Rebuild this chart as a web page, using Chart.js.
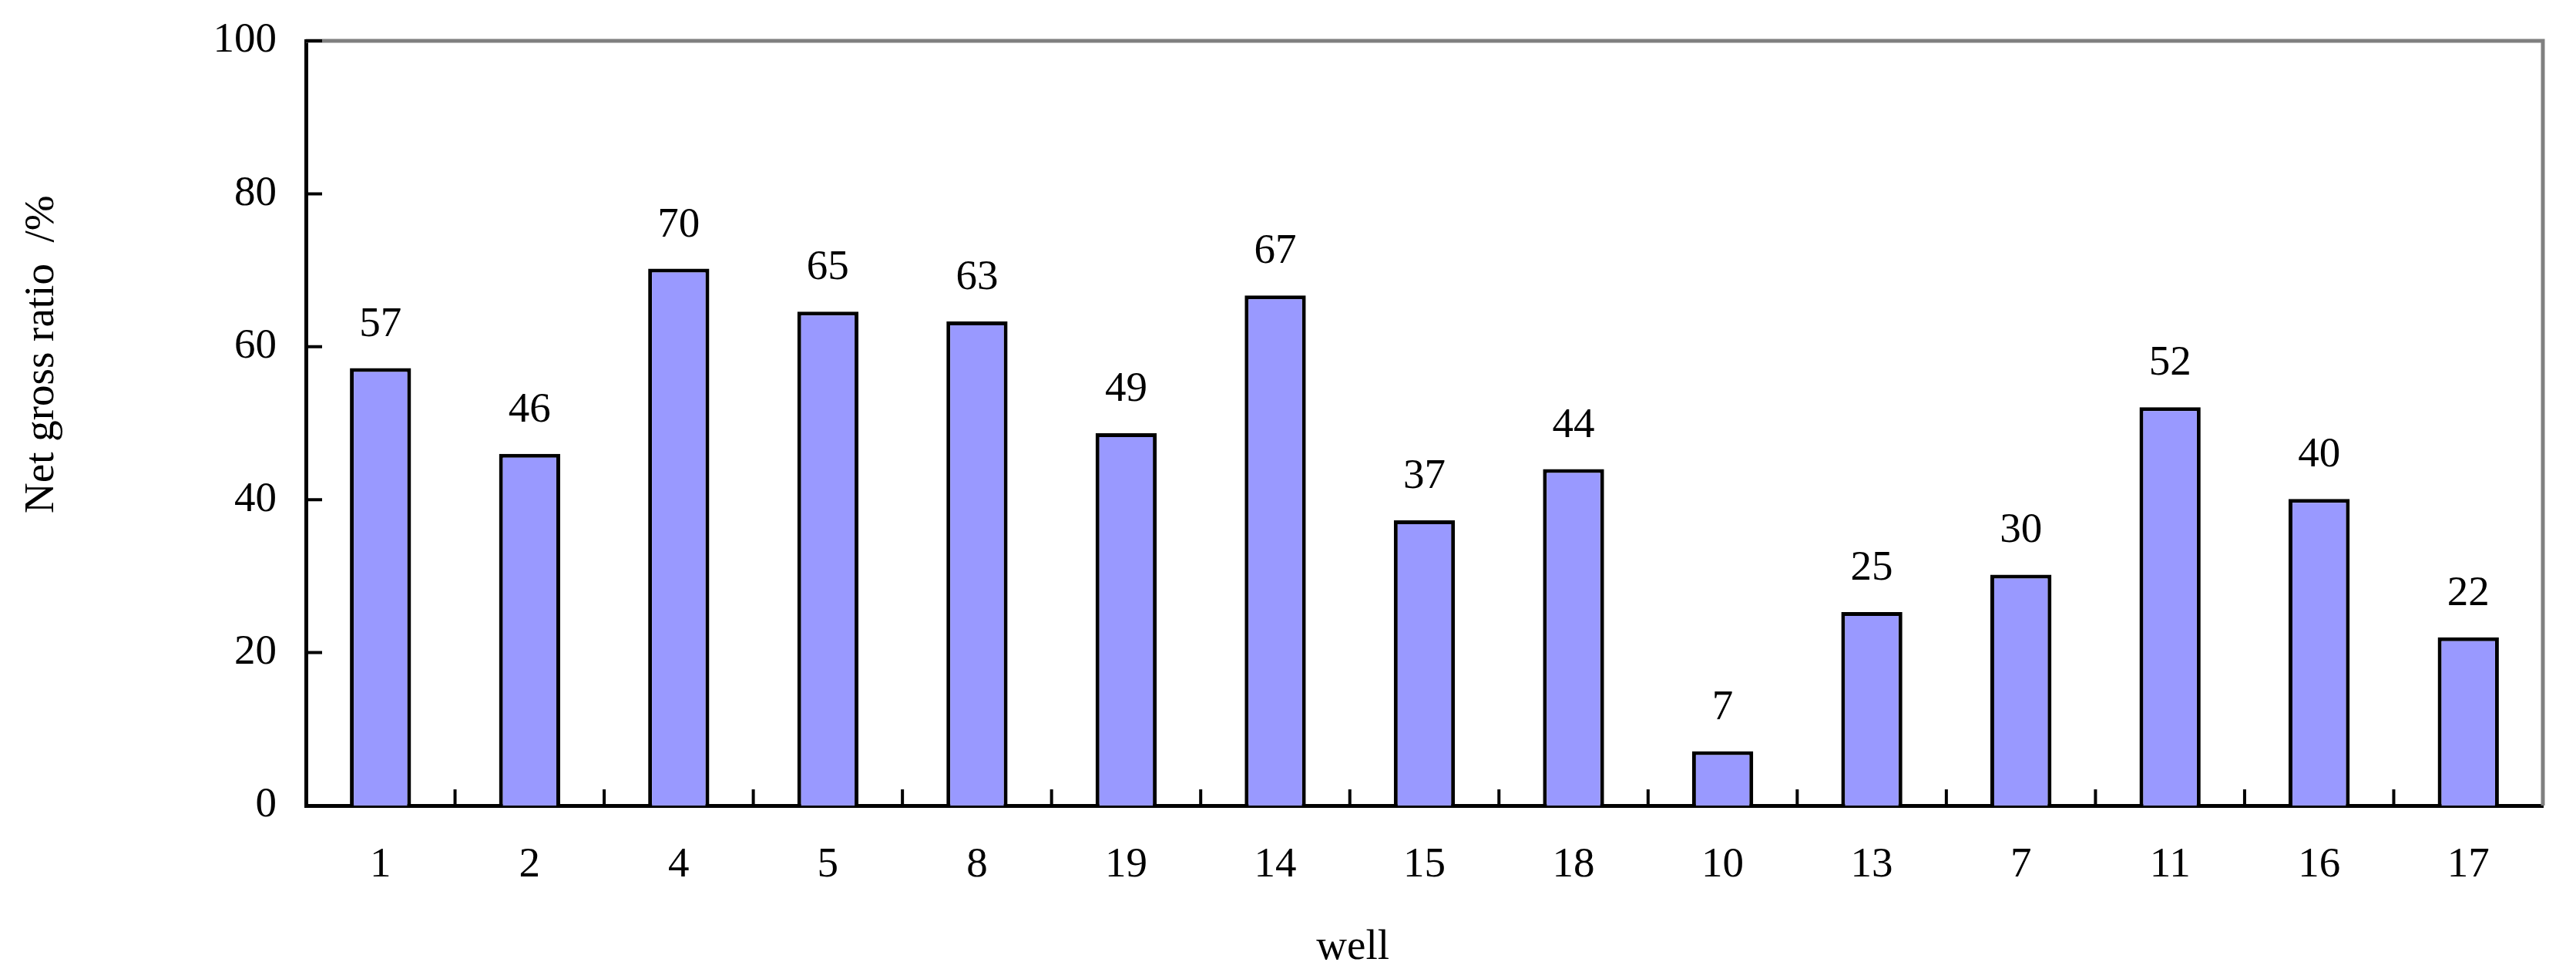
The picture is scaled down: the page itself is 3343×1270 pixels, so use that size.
<!DOCTYPE html>
<html>
<head>
<meta charset="utf-8">
<title>Net gross ratio by well</title>
<script src="https://cdn.jsdelivr.net/npm/chart.js@4/dist/chart.umd.min.js"></script>
<style>
  html, body { margin: 0; padding: 0; background: #fff; }
  #chart { display: block; }
</style>
</head>
<body>
<canvas id="chart" width="3343" height="1270"></canvas>
<script>
// ── Data ──────────────────────────────────────────────────
const wells   = ['1','2','4','5','8','19','14','15','18','10','13','7','11','16','17'];
const ratios  = [57.2, 46.0, 70.2, 64.6, 63.3, 48.7, 66.7, 37.3, 44.0, 7.1, 25.3, 30.2, 52.1, 40.1, 22.0];
const yTicks  = [0, 20, 40, 60, 80, 100];
const xTitle  = 'well';
const yTitle  = 'Net gross ratio  /%';

const FONT = '"Liberation Serif", "Times New Roman", serif';
const FONT_SIZE = 55;

// ── Frame, inward ticks, value labels, axis titles ────────
const framePlugin = {
  id: 'frame',
  afterDatasetsDraw(chart) {
    const { ctx, chartArea: a, scales: { x, y } } = chart;
    ctx.save();

    // gray top / right border
    ctx.strokeStyle = '#808080';
    ctx.lineWidth = 5;
    ctx.beginPath();
    ctx.moveTo(a.left, a.top);
    ctx.lineTo(a.right, a.top);
    ctx.lineTo(a.right, a.bottom);
    ctx.stroke();

    // inward ticks
    ctx.strokeStyle = '#000';
    ctx.lineWidth = 4;
    ctx.beginPath();
    yTicks.forEach(v => {
      const py = y.getPixelForValue(v);
      ctx.moveTo(a.left, py);
      ctx.lineTo(a.left + 21, py);
    });
    for (let i = 1; i < wells.length; i++) {
      const px = (x.getPixelForValue(i - 1) + x.getPixelForValue(i)) / 2;
      ctx.moveTo(px, a.bottom);
      ctx.lineTo(px, a.bottom - 21);
    }
    ctx.stroke();

    // value labels
    ctx.fillStyle = '#000';
    ctx.font = FONT_SIZE + 'px ' + FONT;
    ctx.textAlign = 'center';
    ctx.textBaseline = 'alphabetic';
    const meta = chart.getDatasetMeta(0);
    meta.data.forEach((bar, i) => {
      ctx.fillText(String(Math.round(ratios[i])), bar.x, bar.y - 42);
    });

    // axis titles
    ctx.textBaseline = 'middle';
    ctx.fillText(xTitle, a.left + (a.right - a.left) * 0.468, a.bottom + 185);
    ctx.translate(55, a.top + (a.bottom - a.top) * 0.41);
    ctx.rotate(-Math.PI / 2);
    ctx.fillText(yTitle, 0, 0);
    ctx.restore();
  }
};

new Chart(document.getElementById('chart').getContext('2d'), {
  type: 'bar',
  data: {
    labels: wells,
    datasets: [{
      label: 'Net gross ratio',
      data: ratios,
      backgroundColor: '#9999FF',
      borderColor: '#000',
      borderWidth: 5,
      borderSkipped: 'bottom',
      barPercentage: 0.41,
      categoryPercentage: 1
    }]
  },
  options: {
    responsive: false, animation: false,
    devicePixelRatio: 1,
    layout: { padding: { top: 53, right: 43, bottom: 0, left: 0 } },
    plugins: { legend: { display: false }, tooltip: { enabled: false } },
    scales: {
      x: {
        grid: { display: false, drawTicks: false },
        border: { display: true, color: '#000', width: 5 },
        ticks: { color: '#000', font: { family: FONT, size: FONT_SIZE }, padding: 45, maxRotation: 0 },
        afterFit: s => { s.height = 225; s.paddingLeft = 0; s.paddingRight = 0; }
      },
      y: {
        min: 0, max: 100,
        grid: { display: false, drawTicks: false },
        border: { display: true, color: '#000', width: 5 },
        ticks: { stepSize: 20, color: '#000', font: { family: FONT, size: FONT_SIZE }, padding: 38 },
        afterFit: s => { s.width = 397; s.paddingTop = 0; s.paddingBottom = 0; }
      }
    }
  },
  plugins: [framePlugin]
});
</script>
</body>
</html>
